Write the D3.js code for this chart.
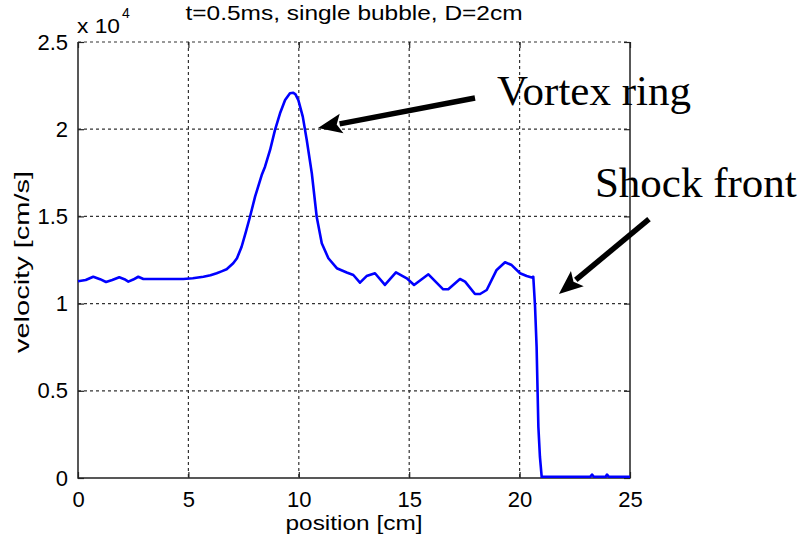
<!DOCTYPE html>
<html>
<head>
<meta charset="utf-8">
<title>velocity profile</title>
<script src="https://d3js.org/d3.v7.min.js"></script>
<style>
  body { margin: 0; background: #fff; }
  svg text { font-family: "Liberation Sans", Arial, sans-serif; fill: #000; }
  svg text.note { font-family: "Liberation Serif", "Times New Roman", serif; }
</style>
</head>
<body>
<svg width="797" height="541"></svg>
<script>
// velocity profile along the axis, units of 1e4 cm/s
var positions = [0, 0.35, 0.69, 1.0, 1.27, 1.55, 1.87, 2.1, 2.28, 2.5, 2.73, 2.96, 3.5, 4.17, 4.77, 5.2, 5.68, 6.0,
  6.28, 6.5, 6.73, 7.03, 7.2, 7.41, 7.6, 7.79, 8.02, 8.32, 8.47, 8.7, 8.92, 9.15, 9.38, 9.6, 9.75, 9.85,
  9.98, 10.18, 10.36, 10.59, 10.81, 11.04, 11.34, 11.72, 12.17, 12.47, 12.77, 13.07, 13.45, 13.9, 14.4,
  14.89, 15.22, 15.87, 16.54, 16.77, 17.3, 17.53, 17.98, 18.21, 18.51, 18.96, 19.34, 19.64, 20.02, 20.32,
  20.55, 20.62, 20.7, 20.77, 20.85, 20.92, 21.0, 21.5, 22.0, 23.2, 23.28, 23.36, 23.9, 23.96, 24.04, 25.0];
var velocity = [1.128, 1.135, 1.154, 1.140, 1.124, 1.135, 1.151, 1.140, 1.126, 1.138, 1.154, 1.141, 1.141, 1.141,
  1.141, 1.145, 1.154, 1.162, 1.174, 1.185, 1.197, 1.231, 1.26, 1.326, 1.41, 1.498, 1.613, 1.737, 1.785,
  1.881, 1.995, 2.091, 2.167, 2.206, 2.209, 2.200, 2.167, 2.072, 1.938, 1.747, 1.498, 1.346, 1.260, 1.203,
  1.178, 1.164, 1.120, 1.158, 1.174, 1.107, 1.179, 1.145, 1.107, 1.168, 1.082, 1.082, 1.141, 1.126, 1.055,
  1.055, 1.078, 1.193, 1.237, 1.221, 1.174, 1.158, 1.150, 1.154, 0.982, 0.753, 0.294, 0.122, 0.007, 0.007,
  0.007, 0.007, 0.02, 0.007, 0.007, 0.02, 0.007, 0.007];

var xTicks = [0, 5, 10, 15, 20, 25];
var yTicks = [0, 0.5, 1, 1.5, 2, 2.5];

// annotations in data units: [tailX, tailY, tipX, tipY]
var notes = [
  { text: "Vortex ring", x: 18.98, y: 2.139, arrow: [17.98, 2.179, 10.87, 2.007] },
  { text: "Shock front", x: 23.41, y: 1.611, arrow: [25.86, 1.485, 21.78, 1.055] }
];

var svg = d3.select("svg"),
    pL = 78, pR = 630, pT = 42, pB = 478;

var x = d3.scaleLinear().domain([0, 25]).range([pL, pR]),
    y = d3.scaleLinear().domain([0, 2.5]).range([pB, pT]);

// dashed grid
svg.append("g").selectAll("line").data(xTicks.slice(1, -1)).enter().append("line")
    .attr("x1", d => x(d)).attr("x2", d => x(d)).attr("y1", pT).attr("y2", pB)
    .attr("stroke", "#333").attr("stroke-width", 1.2).attr("stroke-dasharray", "3,3");
svg.append("g").selectAll("line").data(yTicks.slice(1, -1)).enter().append("line")
    .attr("x1", pL).attr("x2", pR).attr("y1", d => y(d)).attr("y2", d => y(d))
    .attr("stroke", "#333").attr("stroke-width", 1.2).attr("stroke-dasharray", "3,3");
// top edge is drawn dashed as well
svg.append("line").attr("x1", pL).attr("x2", pR).attr("y1", pT).attr("y2", pT)
    .attr("stroke", "#333").attr("stroke-width", 1.2).attr("stroke-dasharray", "3,3");

// box edges and inward ticks
svg.append("path")
    .attr("d", "M" + pL + "," + pT + "V" + pB + "H" + pR + "V" + pT)
    .attr("fill", "none").attr("stroke", "#222").attr("stroke-width", 1.5);

var axB = d3.axisBottom(x).tickValues(xTicks).tickSize(-6).tickPadding(13);
var axL = d3.axisLeft(y).tickValues(yTicks).tickSize(-6).tickPadding(10).tickFormat(d3.format("~g"));
var gB = svg.append("g").attr("transform", "translate(0," + pB + ")").call(axB);
var gL = svg.append("g").attr("transform", "translate(" + pL + ",0)").call(axL);
svg.append("g").attr("transform", "translate(0," + pT + ")")
    .call(d3.axisTop(x).tickValues(xTicks).tickSize(-6).tickFormat(""));
svg.append("g").attr("transform", "translate(" + pR + ",0)")
    .call(d3.axisRight(y).tickValues(yTicks).tickSize(-6).tickFormat(""));
svg.selectAll(".domain").remove();
svg.selectAll(".tick line").attr("stroke", "#222").attr("stroke-width", 1.2);
gB.selectAll("text").attr("font-size", 22);
gL.selectAll("text").attr("font-size", 22);

// exponent label
var ex = svg.append("text").attr("x", pL - 1).attr("y", 33).attr("font-size", 21);
ex.append("tspan").attr("textLength", 43).attr("lengthAdjust", "spacingAndGlyphs").text("x 10");
ex.append("tspan").attr("dy", -15).attr("dx", 2).attr("font-size", 14).text("4");

// title and axis labels
svg.append("text").attr("x", (pL + pR) / 2).attr("y", 20).attr("text-anchor", "middle")
    .attr("font-size", 20).attr("textLength", 337).attr("lengthAdjust", "spacingAndGlyphs")
    .text("t=0.5ms, single bubble, D=2cm");
svg.append("text").attr("x", (pL + pR) / 2).attr("y", 530).attr("text-anchor", "middle")
    .attr("font-size", 21).attr("textLength", 137).attr("lengthAdjust", "spacingAndGlyphs")
    .text("position [cm]");
svg.append("text").attr("transform", "translate(29," + ((pT + pB) / 2 + 2) + ") rotate(-90)")
    .attr("text-anchor", "middle").attr("font-size", 21)
    .attr("textLength", 182).attr("lengthAdjust", "spacingAndGlyphs")
    .text("velocity [cm/s]");

// velocity curve
var pts = positions.map((p, i) => [p, velocity[i]]);
svg.append("path").datum(pts)
    .attr("d", d3.line().x(d => x(d[0])).y(d => y(d[1])))
    .attr("fill", "none").attr("stroke", "#0000ff").attr("stroke-width", 2.6)
    .attr("stroke-linejoin", "round");

// annotation arrows and labels
notes.forEach(function (n) {
  var x0 = x(n.arrow[0]), y0 = y(n.arrow[1]), x1 = x(n.arrow[2]), y1 = y(n.arrow[3]);
  var dx = x1 - x0, dy = y1 - y0, len = Math.hypot(dx, dy), ux = dx / len, uy = dy / len;
  var head = 24, half = 10;
  var bx = x1 - ux * head, by = y1 - uy * head;
  svg.append("line").attr("x1", x0).attr("y1", y0).attr("x2", bx + ux * 2).attr("y2", by + uy * 2)
      .attr("stroke", "#000").attr("stroke-width", 5.5);
  svg.append("path")
      .attr("d", "M" + x1 + "," + y1 + "L" + (bx - uy * half) + "," + (by + ux * half) +
                 "L" + (bx + ux * 5) + "," + (by + uy * 5) +
                 "L" + (bx + uy * half) + "," + (by - ux * half) + "Z")
      .attr("fill", "#000");
  svg.append("text").attr("class", "note").attr("x", x(n.x)).attr("y", y(n.y))
      .attr("font-size", 43).text(n.text);
});
</script>
</body>
</html>
